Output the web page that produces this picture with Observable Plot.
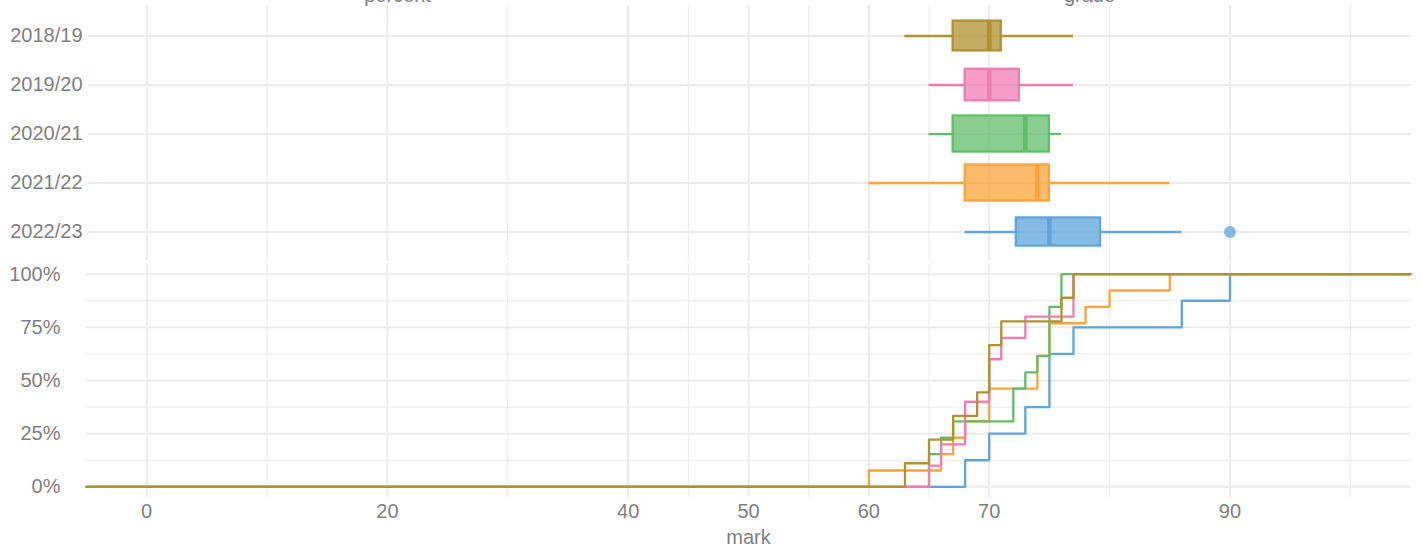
<!DOCTYPE html>
<html>
<head>
<meta charset="utf-8">
<script src="https://cdn.jsdelivr.net/npm/d3@7"></script>
<script src="https://cdn.jsdelivr.net/npm/@observablehq/plot@0.6"></script>
<style>
  html, body { margin: 0; padding: 0; background: #ffffff; }
  #chart svg { display: block; }
</style>
</head>
<body>
<div id="chart"></div>
<script>
// ---------- data ----------
const years = ["2018/19", "2019/20", "2020/21", "2021/22", "2022/23"];
const yearColors = ["#B2912F", "#F17CB0", "#60BD68", "#FAA43A", "#5DA5DA"];

const marks2018_19 = [63, 65, 67, 69, 70, 70, 71, 76, 77];
const marks2019_20 = [65, 66, 68, 68, 70, 70, 71, 73, 77, 77];
const marks2020_21 = [65, 65, 66, 67, 72, 72, 73, 74, 75, 75, 75, 76, 76];
const marks2021_22 = [60, 66, 67, 68, 70, 70, 74, 74, 75, 75, 78, 80, 85];
const marks2022_23 = [68, 70, 73, 75, 75, 77, 86, 90];

const stripLabels = ["percent", "grade"];
const xLabel = "mark";
const xMajorTicks = [0, 20, 40, 50, 60, 70, 90];
const xMinorTicks = [10, 30, 45, 55, 65, 80, 100];
const yMajorTicks = [0, 0.25, 0.5, 0.75, 1];
const yMinorTicks = [0.125, 0.375, 0.625, 0.875];
const xDomain = [-5, 105];
const yDomain = [-0.05, 1.05];

// ---------- layout / style ----------
const W = 1422, mL = 86, mR = 12;
const topH = 262, topMT = 4, topMB = 0;
const botH = 286, botMT = 1, botMB = 51;
const padOuter = 0.09;
const grid = "#EBEBEB";
const textColor = "#7f7f7f";
const font = "'Liberation Sans', Arial, Helvetica, sans-serif";
const lineW = 2.3;

const marksByYear = [marks2018_19, marks2019_20, marks2020_21, marks2021_22, marks2022_23];

// ---------- statistics (boxplot + ecdf) ----------
const stats = years.map((year, i) => {
  const v = d3.sort(marksByYear[i]);
  const q1 = d3.quantile(v, 0.25), median = d3.quantile(v, 0.5), q3 = d3.quantile(v, 0.75);
  const iqr = q3 - q1;
  const lf = q1 - 1.5 * iqr, uf = q3 + 1.5 * iqr;
  const inside = v.filter(d => d >= lf && d <= uf);
  return {year, n: v.length, q1, median, q3, lo: d3.min(inside), hi: d3.max(inside),
          outliers: v.filter(d => d < lf || d > uf)};
});
const maxN = d3.max(stats, d => d.n);
const step = (topH - topMT - topMB) / (years.length + 2 * padOuter);
const maxBox = 0.74 * step;

const outlierRows = stats.flatMap(s => s.outliers.map(m => ({year: s.year, mark: m})));

// ECDF rows: drawn in reverse year order so 2018/19 ends on top
const ecdfRows = [];
for (let i = years.length - 1; i >= 0; --i) {
  const v = d3.sort(marksByYear[i]);
  const n = v.length;
  ecdfRows.push({year: years[i], mark: xDomain[0], p: 0});
  for (const m of Array.from(new Set(v))) {
    ecdfRows.push({year: years[i], mark: m, p: d3.bisectRight(v, m) / n});
  }
  ecdfRows.push({year: years[i], mark: xDomain[1], p: 1});
}

const colorScale = {domain: years, range: yearColors};
const style = {fontFamily: font, fontSize: "20px", color: textColor, background: "#ffffff", overflow: "hidden"};

// ---------- top panel: boxplots ----------
const boxMarks = stats.flatMap(s => {
  const h = maxBox * Math.sqrt(s.n / maxN);
  const inset = (step - h) / 2;
  return [
    Plot.ruleY([s], {y: "year", x1: "lo", x2: "q1", stroke: "year", strokeWidth: lineW}),
    Plot.ruleY([s], {y: "year", x1: "q3", x2: "hi", stroke: "year", strokeWidth: lineW}),
    Plot.barX([s], {y: "year", x1: "q1", x2: "q3", fill: "year", fillOpacity: 0.75,
                    stroke: "year", strokeWidth: lineW, insetTop: inset, insetBottom: inset}),
    Plot.tickX([s], {y: "year", x: "median", stroke: "year", strokeWidth: 2 * lineW,
                     insetTop: inset, insetBottom: inset})
  ];
});

const topPlot = Plot.plot({
  width: W, height: topH,
  marginLeft: mL, marginRight: mR, marginTop: topMT, marginBottom: topMB,
  style,
  x: {domain: xDomain, axis: null},
  y: {type: "band", domain: years, paddingInner: 0, paddingOuter: padOuter},
  color: colorScale,
  marks: [
    Plot.ruleX(xMinorTicks, {stroke: grid, strokeWidth: 1, insetTop: 1, insetBottom: 1}),
    Plot.ruleX(xMajorTicks, {stroke: grid, strokeWidth: 2, insetTop: 1, insetBottom: 1}),
    Plot.ruleY(years, {y: d => d, stroke: grid, strokeWidth: 2, insetLeft: 2}),
    Plot.axisY({tickSize: 0, tickPadding: 4, label: null, fontSize: 20}),
    ...boxMarks,
    Plot.dot(outlierRows, {x: "mark", y: "year", r: 6, fill: "year", fillOpacity: 0.75}),
    Plot.text([stripLabels[0]], {text: d => d, frameAnchor: "top-left", dx: 311, dy: -3,
                                 lineAnchor: "bottom", textAnchor: "middle", fontSize: 20}),
    Plot.text([stripLabels[1]], {text: d => d, frameAnchor: "top-left", dx: 1003, dy: -3,
                                 lineAnchor: "bottom", textAnchor: "middle", fontSize: 20})
  ]
});

// ---------- bottom panel: ECDF ----------
const botPlot = Plot.plot({
  width: W, height: botH,
  marginLeft: mL, marginRight: mR, marginTop: botMT, marginBottom: botMB,
  style,
  x: {domain: xDomain},
  y: {domain: yDomain},
  color: colorScale,
  marks: [
    Plot.ruleX(xMinorTicks, {stroke: grid, strokeWidth: 1}),
    Plot.ruleX(xMajorTicks, {stroke: grid, strokeWidth: 2}),
    Plot.ruleY(yMinorTicks, {stroke: grid, strokeWidth: 1}),
    Plot.ruleY(yMajorTicks, {stroke: grid, strokeWidth: 2}),
    Plot.axisY(yMajorTicks, {tickSize: 0, tickPadding: 26, label: null, fontSize: 20,
                             tickFormat: d => `${Math.round(d * 100)}%`}),
    Plot.axisX(xMajorTicks, {tickSize: 0, tickPadding: 6, fontSize: 20, label: xLabel,
                             labelAnchor: "center", labelOffset: 46, labelArrow: "none",
                             tickFormat: d => String(d)}),
    Plot.line(ecdfRows, {x: "mark", y: "p", z: "year", stroke: "year", curve: "step-after",
                         strokeWidth: 2.3})
  ]
});

const root = document.getElementById("chart");
root.appendChild(topPlot);
root.appendChild(botPlot);
</script>
</body>
</html>
